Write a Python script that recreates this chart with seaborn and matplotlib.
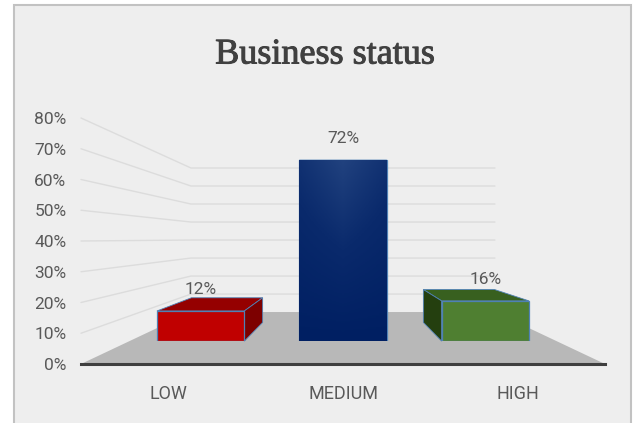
import numpy as np
import pandas as pd
import matplotlib
matplotlib.use("Agg")
import matplotlib.pyplot as plt
import matplotlib.patheffects as pe
from matplotlib.colors import LinearSegmentedColormap
from matplotlib.patches import Polygon, Rectangle
import seaborn as sns

# Chart content
title = "Business status"
categories = ["LOW", "MEDIUM", "HIGH"]
shares = [12, 72, 16]
axis_ticks = [0, 10, 20, 30, 40, 50, 60, 70, 80]

# Face colours of each box
front_colors = ["#c00000", "#0f2f70", "#4f7f31"]
top_colors = ["#950000", "#0f2f70", "#38601f"]
side_colors = ["#7d0000", "#0f2f70", "#243f0f"]
edge_color = "#4f81b5"
text_color = "#595959"

W, H = 635, 423
sns.set_theme(style="white")
plt.rcParams["font.family"] = ["Roboto", "DejaVu Sans"]

fig = plt.figure(figsize=(W / 100, H / 100), dpi=100, facecolor="white")


def px_rect(left, top, right, bottom):
    """Figure-fraction rectangle from pixel edges measured from the top left."""
    return [left / W, 1 - bottom / H, (right - left) / W, (bottom - top) / H]


# Chart-area panel
panel = Rectangle((13.5 / W, -0.01), (631 - 13.5) / W, 1.01 - 5.5 / H,
                  transform=fig.transFigure, facecolor="#eeeeee",
                  edgecolor="#c2c2c2", linewidth=1.5)
fig.add_artist(panel)

# Perspective: depth 0 is the frame plane, depth 1 the back wall
X_SHRINK = 0.42
Y_SHRINK = 0.4146
Y_RISE = 16.9
BAR_FRONT = 0.44
BAR_BACK = 0.80
BAR_WIDTH = 0.614
FRAME = dict(left=81, right=605, top=118, bottom=364)


def project(x, y, depth):
    return (1 + (x - 1) * (1 - X_SHRINK * depth),
            y * (1 - Y_SHRINK * depth) + Y_RISE * depth)


# Frame axes: carries the tick labels, back wall, floor and box sides
ax = fig.add_axes(px_rect(**FRAME), facecolor="none", zorder=1)
ax.set_xlim(-0.5, 2.5)
ax.set_ylim(axis_ticks[0], axis_ticks[-1])
ax.set_xticks(range(len(categories)), categories)
ax.set_yticks(axis_ticks, [f"{t}%" for t in axis_ticks])
ax.tick_params(axis="x", length=0, pad=15, labelsize=13, labelcolor=text_color)
ax.tick_params(axis="y", length=0, pad=10.5, labelsize=12.5, labelcolor=text_color)
sns.despine(ax=ax, left=True)
ax.spines["bottom"].set_color("#3f3f3f")
ax.spines["bottom"].set_linewidth(2.2)
ax.spines["bottom"].set_zorder(6)

# Floor
ax.add_patch(Polygon([project(-0.5, 0, 0), project(2.5, 0, 0),
                      project(2.5, 0, 1), project(-0.5, 0, 1)],
                     closed=True, facecolor="#b8b8b8", edgecolor="none",
                     clip_on=False, zorder=2))

# Side-wall and back-wall gridlines
for t in axis_ticks[1:]:
    pts = np.array([project(-0.5, t, 0), project(-0.5, t, 1), project(2.5, t, 1)])
    ax.plot(pts[:, 0], pts[:, 1], color="#dcdcdc", lw=1.0, clip_on=False, zorder=1)

# Top and inner side of each box
half = BAR_WIDTH / 2
for i, v in enumerate(shares):
    ax.add_patch(Polygon([project(i - half, v, BAR_FRONT), project(i + half, v, BAR_FRONT),
                          project(i + half, v, BAR_BACK), project(i - half, v, BAR_BACK)],
                         closed=True, facecolor=top_colors[i], edgecolor=edge_color,
                         linewidth=0.6, clip_on=False, zorder=3))
    if i != 1:
        sx = i + half if i < 1 else i - half
        ax.add_patch(Polygon([project(sx, 0, BAR_FRONT), project(sx, v, BAR_FRONT),
                              project(sx, v, BAR_BACK), project(sx, 0, BAR_BACK)],
                             closed=True, facecolor=side_colors[i], edgecolor=edge_color,
                             linewidth=0.6, clip_on=False, zorder=3))

# Front faces live in their own axes, scaled to the depth of the boxes
fx0, fy0 = project(-0.5, 0, BAR_FRONT)
fx1, fy1 = project(2.5, 80, BAR_FRONT)
x_px = lambda v: FRAME["left"] + (v + 0.5) / 3 * (FRAME["right"] - FRAME["left"])
y_px = lambda v: FRAME["bottom"] - v / 80 * (FRAME["bottom"] - FRAME["top"])
ax_bars = fig.add_axes(px_rect(x_px(fx0), y_px(fy1), x_px(fx1), y_px(fy0)),
                       facecolor="none", zorder=2)
df = pd.DataFrame({"category": categories, "share": shares})
sns.barplot(data=df, x="category", y="share", hue="category", palette=front_colors,
            width=BAR_WIDTH, saturation=1, legend=False, ax=ax_bars,
            edgecolor=edge_color, linewidth=0.9)
ax_bars.set_xlim(-0.5, 2.5)
ax_bars.set_ylim(0, 80)
ax_bars.axis("off")

# Soft sheen on the tall box
bars = list(ax_bars.patches)
sheen = LinearSegmentedColormap.from_list("sheen", ["#001f62", "#0a2a6c", "#21427f"])
vert = np.linspace(1, 0, 64)[:, None]
horiz = 1 - np.abs(np.linspace(-1, 1, 64))[None, :] * 0.35
img = ax_bars.imshow(vert * horiz, cmap=sheen, vmin=0, vmax=1, aspect="auto",
                     extent=(1 - half, 1 + half, 0, shares[1]), zorder=3)
img.set_clip_path(bars[1])
ax_bars.set_xlim(-0.5, 2.5)
ax_bars.set_ylim(0, 80)

# Value labels
for c in ax_bars.containers:
    ax_bars.bar_label(c, fmt="%g%%", padding=10, fontsize=12.5, color=text_color, zorder=5)

# Title in the chart's serif face, slightly thickened
fig.text(325 / W, 1 - 55 / H, title, ha="center", va="center", color="#404040",
         fontsize=26, family=["Liberation Serif", "DejaVu Serif"],
         path_effects=[pe.withStroke(linewidth=0.7, foreground="#404040")])

fig.savefig("out.png", dpi=100, facecolor=fig.get_facecolor())
